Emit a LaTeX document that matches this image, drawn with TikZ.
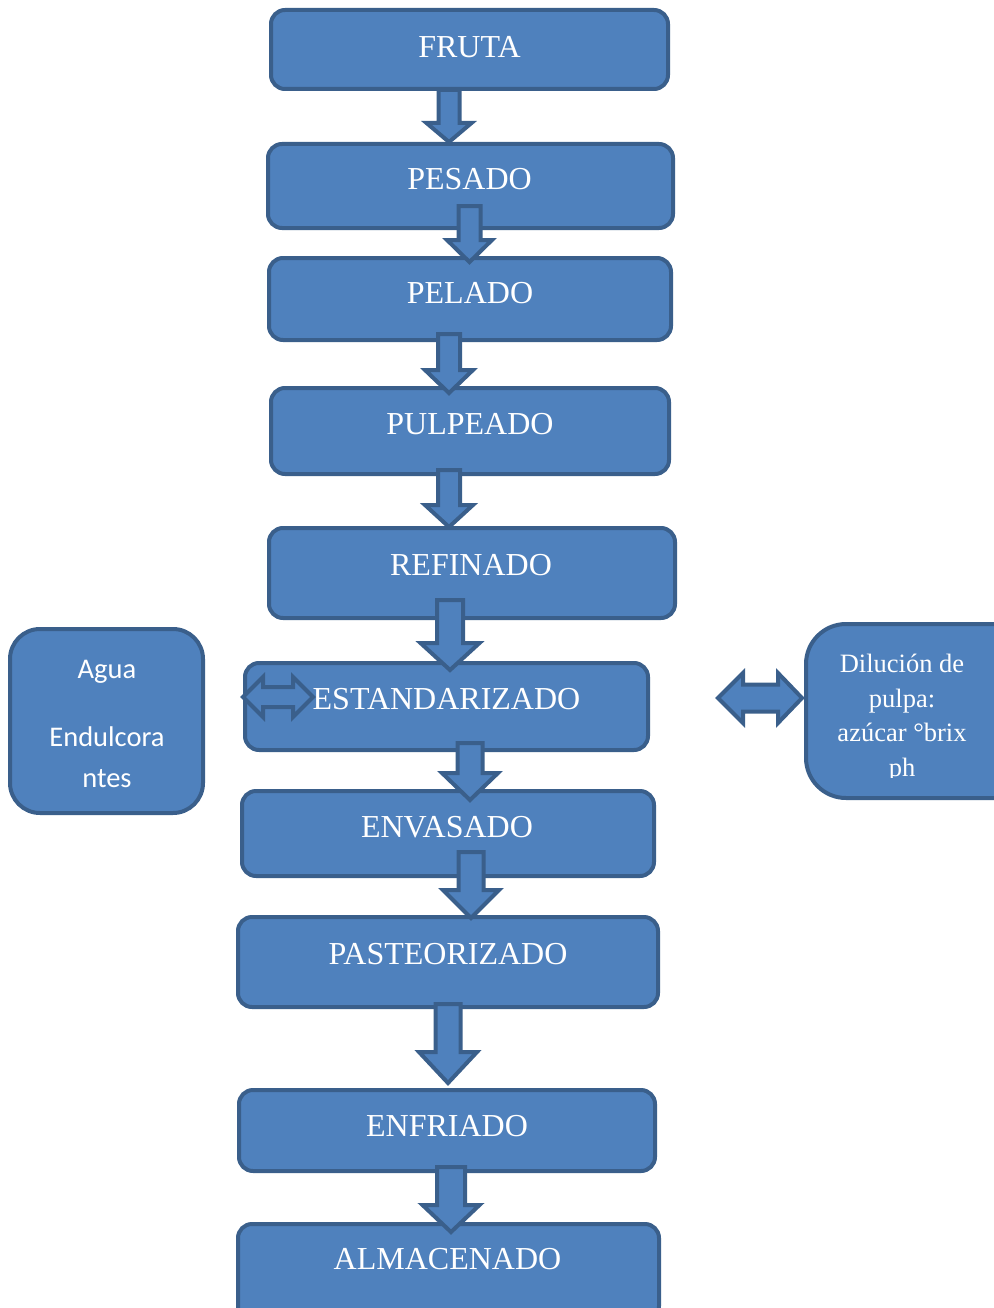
\documentclass[tikz,border=0pt]{standalone}
\usepackage{fontspec}
\setmainfont{Liberation Serif}
\newfontfamily\calib{Carlito}
\usetikzlibrary{fit}
\definecolor{fillb}{HTML}{4F81BD}
\definecolor{lineb}{HTML}{3A5F8B}
\tikzset{
  stepbox/.style={draw=lineb, fill=fillb, line width=4pt, rounded corners=14pt, inner sep=0pt},
  sidebox/.style={stepbox, rounded corners=34pt},
  title/.style={text=white, font=\fontsize{32}{36}\selectfont, inner sep=0pt},
  sidetxt/.style={text=white, font=\fontsize{26.5}{34}\selectfont, inner sep=0pt, anchor=base},
  sanstxt/.style={text=white, font=\calib\fontsize{28.5}{34}\selectfont, inner sep=0pt, anchor=base},
  blockarrow/.style={draw=lineb, fill=fillb, line width=4pt, line join=miter},
}
% cx, shaft half width, head half width, start y, head y, tip y
\newcommand\downarr[6]{%
  \draw[blockarrow] ({#1-#2},#4) -- ({#1-#2},#5) -- ({#1-#3},#5) -- (#1,#6)
    -- ({#1+#3},#5) -- ({#1+#2},#5) -- ({#1+#2},#4) -- cycle;}
% left tip x, left head x, right head x, right tip x, cy, shaft half, head half
\newcommand\duoarr[7]{%
  \draw[blockarrow] (#1,#5) -- (#2,{#5-#7}) -- (#2,{#5-#6}) -- (#3,{#5-#6})
    -- (#3,{#5-#7}) -- (#4,#5) -- (#3,{#5+#7}) -- (#3,{#5+#6}) -- (#2,{#5+#6})
    -- (#2,{#5+#7}) -- cycle;}
\begin{document}
\begin{tikzpicture}[x=1pt,y=-1pt]
\useasboundingbox (0,0) rectangle (993,1308);
% process boxes
\node[stepbox, fit={(271,10) (668,89)}] (fruta) {};
\node[stepbox, fit={(268,144) (673,228)}] (pesado) {};
\node[stepbox, fit={(269,258) (671,340)}] (pelado) {};
\node[stepbox, fit={(271,388) (669,474)}] (pulpeado) {};
\node[stepbox, fit={(269,528) (675,618)}] (refinado) {};
\node[stepbox, fit={(245,663) (648,750)}] (estand) {};
\node[stepbox, fit={(242,791) (654,876)}] (envasado) {};
\node[stepbox, fit={(238,917) (658,1007)}] (pasteo) {};
\node[stepbox, fit={(239,1090) (655,1171)}] (enfriado) {};
\node[stepbox, fit={(238,1224) (659,1320)}] (almacen) {};
% side boxes
\node[sidebox, rounded corners=30pt, fit={(10,629) (203,813)}] (agua) {};
\node[sidebox, rounded corners=40pt, fit={(806,624) (1060,798)}] (dilucion) {};
% titles
\node[title] (t1) at (469.5,47.5) {FRUTA};
\node[title] (t2) at (469.5,179.5) {PESADO};
\node[title] (t3) at (470,293) {PELADO};
\node[title] (t4) at (470,424) {PULPEADO};
\node[title] (t5) at (471,565) {REFINADO};
\node[title] (t6) at (446.5,699) {ESTANDARIZADO};
\node[title] (t7) at (447,827) {ENVASADO};
\node[title] (t8) at (448,954) {PASTEORIZADO};
\node[title] (t9) at (447,1126) {ENFRIADO};
\node[title] (t10) at (447.5,1259) {ALMACENADO};
% side texts
\node[sanstxt] (a1) at (107,678) {Agua};
\node[sanstxt] (a2) at (107,746) {Endulcora};
\node[sanstxt] (a3) at (107,787) {ntes};
\begin{scope}
  \clip (806,624) rectangle (993,777);
  \node[sidetxt] (d1) at (902,672) {Dilución de};
  \node[sidetxt] (d2) at (902,707) {pulpa:};
  \node[sidetxt] (d3) at (902,741) {azúcar °brix};
  \node[sidetxt] (d4) at (902,776) {ph};
\end{scope}
% down arrows
\downarr{449}{10.5}{22.5}{90}{123}{142}
\downarr{469.5}{11}{22.5}{206}{240}{262}
\downarr{449}{11}{24}{334}{370}{393}
\downarr{449}{11}{24}{470}{505}{527}
\downarr{450}{13}{29.5}{600}{643}{670}
\downarr{470}{12.5}{28}{743}{773}{800}
\downarr{471}{12.5}{28}{852}{890}{918}
\downarr{448}{12.5}{29}{1004}{1052}{1083}
\downarr{451}{14}{28.5}{1167}{1205}{1232}
% double arrows
\duoarr{243}{263}{293}{313}{697}{10}{20}
\duoarr{718}{743}{778}{802}{698}{13.5}{25}
\end{tikzpicture}
\end{document}
